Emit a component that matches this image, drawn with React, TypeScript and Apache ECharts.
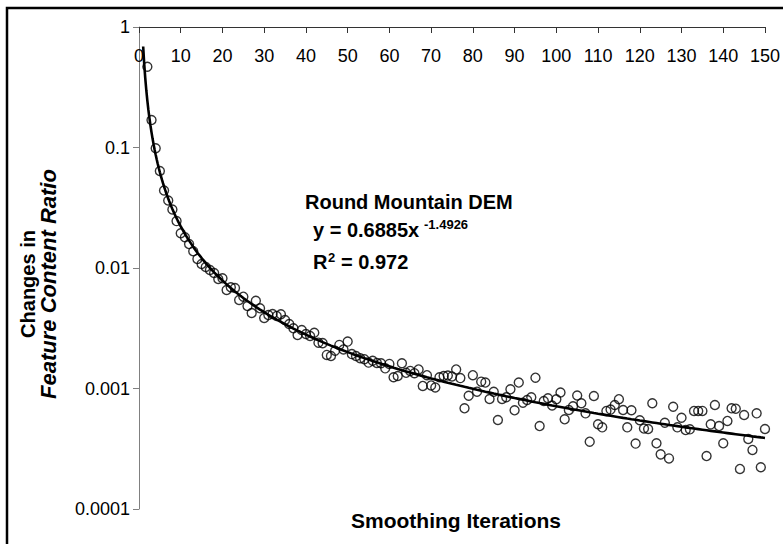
import { useEffect, useRef } from "react";
import * as echarts from "echarts";

// ---- data ----
const firstIteration = 2;
// Changes in Feature Content Ratio, one value per smoothing iteration (2..150)
const ratioIter2to30 = [
  0.468, 0.169, 0.0985, 0.0638, 0.044, 0.0363, 0.0306, 0.0245, 0.0194, 0.018,
  0.0158, 0.0138, 0.0119, 0.0108, 0.0102, 0.00962, 0.00909, 0.0081, 0.00821,
  0.00657, 0.00692, 0.00682, 0.00543, 0.00578, 0.00484, 0.00423, 0.00535,
  0.00463, 0.00385,
];
const ratioIter31to60 = [
  0.00407, 0.00415, 0.004, 0.00413, 0.0037, 0.00343, 0.00316, 0.00278, 0.00306,
  0.00283, 0.00273, 0.0029, 0.0024, 0.00238, 0.0019, 0.00186, 0.00206, 0.0023,
  0.00211, 0.00245, 0.00193, 0.00186, 0.00178, 0.00175, 0.00164, 0.0017,
  0.00163, 0.00162, 0.00147, 0.0016,
];
const ratioIter61to90 = [
  0.00124, 0.00127, 0.00162, 0.00135, 0.0014, 0.00134, 0.00144, 0.00105,
  0.00129, 0.00106, 0.00102, 0.00124, 0.00127, 0.00128, 0.00126, 0.00144,
  0.00122, 0.000685, 0.000871, 0.00129, 0.000941, 0.00114, 0.00112, 0.000818,
  0.00094, 0.000548, 0.00082, 0.000845, 0.000985, 0.000659,
];
const ratioIter91to120 = [
  0.00112, 0.000762, 0.000803, 0.000845, 0.00123, 0.000488, 0.000788, 0.000829,
  0.000723, 0.000814, 0.000927, 0.000555, 0.000663, 0.000712, 0.000875,
  0.000754, 0.000622, 0.000362, 0.000867, 0.000505, 0.000476, 0.000651,
  0.000668, 0.00073, 0.000815, 0.000663, 0.000476, 0.00066, 0.000349, 0.000545,
];
const ratioIter121to150 = [
  0.000465, 0.000461, 0.000754, 0.000351, 0.000284, 0.00052, 0.000263,
  0.000706, 0.000476, 0.000572, 0.000452, 0.000458, 0.000651, 0.00065,
  0.000652, 0.000275, 0.000504, 0.00073, 0.000488, 0.000351, 0.000538,
  0.000685, 0.00068, 0.000215, 0.000603, 0.000381, 0.000309, 0.000622,
  0.000222, 0.000461,
];

// power-law trendline printed on the chart: y = a * x^b
const trendA = 0.6885;
const trendB = -1.4926;
const trendR2 = "0.972";
const trendXStart = 1;
const trendXEnd = 150;

const yTickLabels: Record<string, string> = {
  "1": "1",
  "0.1": "0.1",
  "0.01": "0.01",
  "0.001": "0.001",
  "0.0001": "0.0001",
};

const annotationTitle = "Round Mountain DEM";
const xAxisTitle = "Smoothing Iterations";
const yAxisTitleLine1 = "Changes in";
const yAxisTitleLine2 = "Feature Content Ratio";

const FONT = '"Liberation Sans", Arial, sans-serif';

export default function App() {
  const ref = useRef<HTMLDivElement>(null);

  useEffect(() => {
    if (!ref.current) return;
    const chart = echarts.init(ref.current, undefined, { renderer: "svg" });

    const allRatios = [
      ...ratioIter2to30,
      ...ratioIter31to60,
      ...ratioIter61to90,
      ...ratioIter91to120,
      ...ratioIter121to150,
    ];
    const scatterData = allRatios.map((v, i) => [firstIteration + i, v]);

    const trendData: number[][] = [];
    for (let x = trendXStart; x <= trendXEnd; x += x < 10 ? 0.25 : 1) {
      trendData.push([x, trendA * Math.pow(x, trendB)]);
    }

    const fmtY = (v: number) => {
      const key = String(Number(v.toPrecision(3)));
      return yTickLabels[key] ?? key;
    };

    chart.setOption({
      animation: false,
      backgroundColor: "#fff",
      grid: { left: 139, right: 14, top: 27, bottom: 35, containLabel: false },
      xAxis: {
        type: "value",
        position: "top",
        min: 0,
        max: 150,
        interval: 10,
        axisLine: { show: true, onZero: false, lineStyle: { color: "#333", width: 1 } },
        axisTick: { show: true, inside: true, length: 6, lineStyle: { color: "#333" } },
        axisLabel: {
          inside: true,
          margin: 20,
          color: "#000",
          fontFamily: FONT,
          fontSize: 18,
        },
        splitLine: { show: false },
      },
      yAxis: {
        type: "log",
        logBase: 10,
        min: 0.0001,
        max: 1,
        axisLine: { show: true, lineStyle: { color: "#808080", width: 1 } },
        axisTick: { show: true, inside: false, length: 6, lineStyle: { color: "#808080" } },
        minorTick: { show: false },
        axisLabel: {
          margin: 9,
          color: "#000",
          fontFamily: FONT,
          fontSize: 18,
          formatter: fmtY,
        },
        splitLine: { show: false },
      },
      series: [
        {
          type: "line",
          data: trendData,
          showSymbol: false,
          symbol: "none",
          lineStyle: { color: "#000", width: 2.6 },
          z: 2,
          silent: true,
        },
        {
          type: "scatter",
          data: scatterData,
          symbol: "circle",
          symbolSize: 9,
          itemStyle: { color: "rgba(0,0,0,0)", borderColor: "#000", borderWidth: 1.4 },
          z: 3,
          silent: true,
        },
      ],
      graphic: [
        {
          type: "rect",
          shape: { x: 7, y: 8, width: 800, height: 560 },
          style: { fill: "none", stroke: "#000", lineWidth: 2.5 },
          silent: true,
        },
        {
          type: "text",
          x: 305,
          y: 202,
          style: {
            text: annotationTitle,
            font: `bold 20px ${FONT}`,
            fill: "#000",
            align: "left",
            verticalAlign: "middle",
          },
        },
        {
          type: "text",
          x: 313,
          y: 230,
          style: {
            text: "y = " + trendA + "x",
            font: `bold 20px ${FONT}`,
            fill: "#000",
            align: "left",
            verticalAlign: "middle",
          },
        },
        {
          type: "text",
          x: 424,
          y: 224,
          style: {
            text: String(trendB),
            font: `bold 13px ${FONT}`,
            fill: "#000",
            align: "left",
            verticalAlign: "middle",
          },
        },
        {
          type: "text",
          x: 313,
          y: 262,
          style: {
            text: "R",
            font: `bold 20px ${FONT}`,
            fill: "#000",
            align: "left",
            verticalAlign: "middle",
          },
        },
        {
          type: "text",
          x: 328,
          y: 257,
          style: {
            text: "2",
            font: `bold 13px ${FONT}`,
            fill: "#000",
            align: "left",
            verticalAlign: "middle",
          },
        },
        {
          type: "text",
          x: 341,
          y: 262,
          style: {
            text: "= " + trendR2,
            font: `bold 20px ${FONT}`,
            fill: "#000",
            align: "left",
            verticalAlign: "middle",
          },
        },
        {
          type: "text",
          x: 456,
          y: 520,
          style: {
            text: xAxisTitle,
            font: `bold 21px ${FONT}`,
            fill: "#000",
            align: "center",
            verticalAlign: "middle",
          },
        },
        {
          type: "text",
          x: 28,
          y: 284,
          rotation: Math.PI / 2,
          style: {
            text: yAxisTitleLine1,
            font: `bold 20px ${FONT}`,
            fill: "#000",
            align: "center",
            verticalAlign: "middle",
          },
        },
        {
          type: "text",
          x: 48,
          y: 284,
          rotation: Math.PI / 2,
          style: {
            text: yAxisTitleLine2,
            font: `italic bold 22px ${FONT}`,
            fill: "#000",
            align: "center",
            verticalAlign: "middle",
          },
        },
      ],
    });

    return () => chart.dispose();
  }, []);

  return (
    <div
      ref={ref}
      style={{ position: "fixed", left: 0, top: 0, width: 783, height: 544 }}
    />
  );
}
